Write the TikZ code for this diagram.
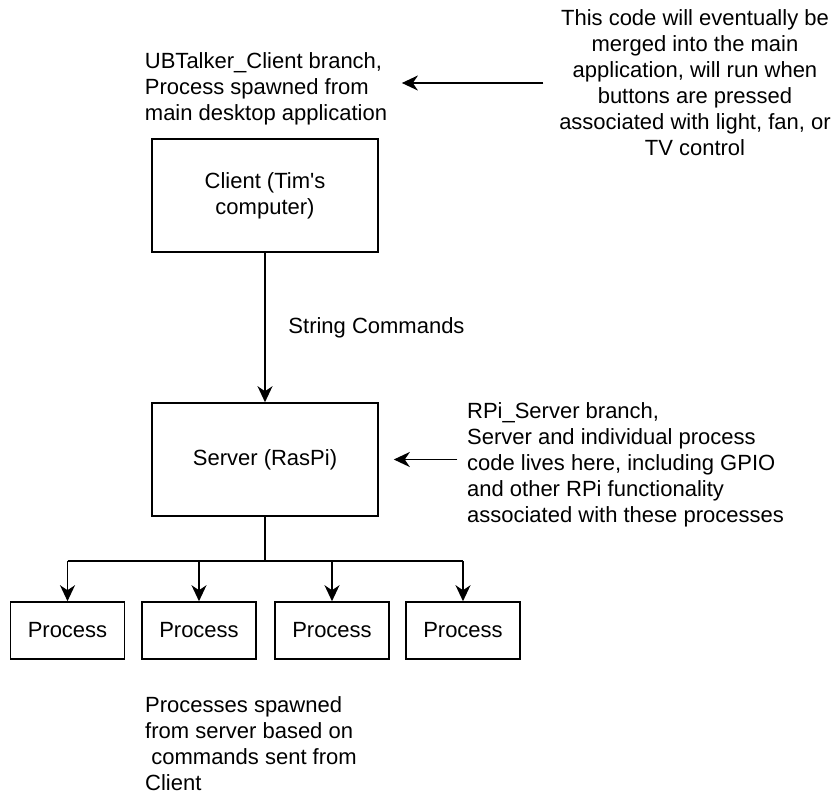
\documentclass[tikz,border=0pt]{standalone}
\usepackage{fontspec}
\setmainfont{Liberation Sans}
\usetikzlibrary{arrows.meta}

\tikzset{
  block/.style={draw, line width=0.8pt, align=center, minimum width=113pt, minimum height=56.5pt},
  procbox/.style={draw, line width=0.8pt, minimum width=57pt, minimum height=28.5pt},
  note/.style={inner sep=0pt},
}

\begin{document}
\begin{tikzpicture}[x=0.5pt, y=-0.5pt, line width=0.8pt,
    >={Stealth[length=8pt, width=7.5pt, inset=2.5pt]},
    font=\fontsize{11}{13}\selectfont]
  \useasboundingbox (0,0) rectangle (836,794);

  % Client and server
  \node[block] (client) at (265,195.5) {Client (Tim\textquotesingle s\\computer)};
  \node[block] (server) at (265,459.5) {Server (RasPi)};

  % Processes
  \foreach \i/\x in {1/67.5, 2/199, 3/332, 4/463} {
      \node[procbox] (proc\i) at (\x,630.5) {Process};
    }

  % Commands
  \draw[->] (client) -- (server) node[midway, right=8pt] {String Commands};

  % Server spawns the processes
  \coordinate (fork) at (265,561);
  \draw (server) -- (fork);
  \draw (fork -| proc1) -- (fork -| proc4);
  \foreach \i in {1,...,4} {
      \draw[->] (fork -| proc\i) -- (proc\i);
    }

  % Notes
  \node[note, align=left] (clientnote) at (266,89) {UBTalker\_Client branch,\\Process spawned from\\main desktop application};
  \node[note, align=center] (codenote) at (695,83) {This code will eventually be\\merged into the main\\application, will run when\\buttons are pressed\\associated with light, fan, or\\TV control};
  \node[note, align=left] (servernote) at (625.5,464.5) {RPi\_Server branch,\\Server and individual process\\code lives here, including GPIO\\and other RPi functionality\\associated with these processes};
  \node[note, align=left] (procnote) at (251,744) {Processes spawned\\from server based on\\\hspace*{.28em}commands sent from\\Client};

  \draw[->, shorten <=7.5pt, shorten >=7pt] (codenote.west) -- (codenote.west -| clientnote.east);
  \draw[->, shorten <=4.5pt, shorten >=7.5pt] (servernote.west |- server.east) -- (server.east);
\end{tikzpicture}
\end{document}
